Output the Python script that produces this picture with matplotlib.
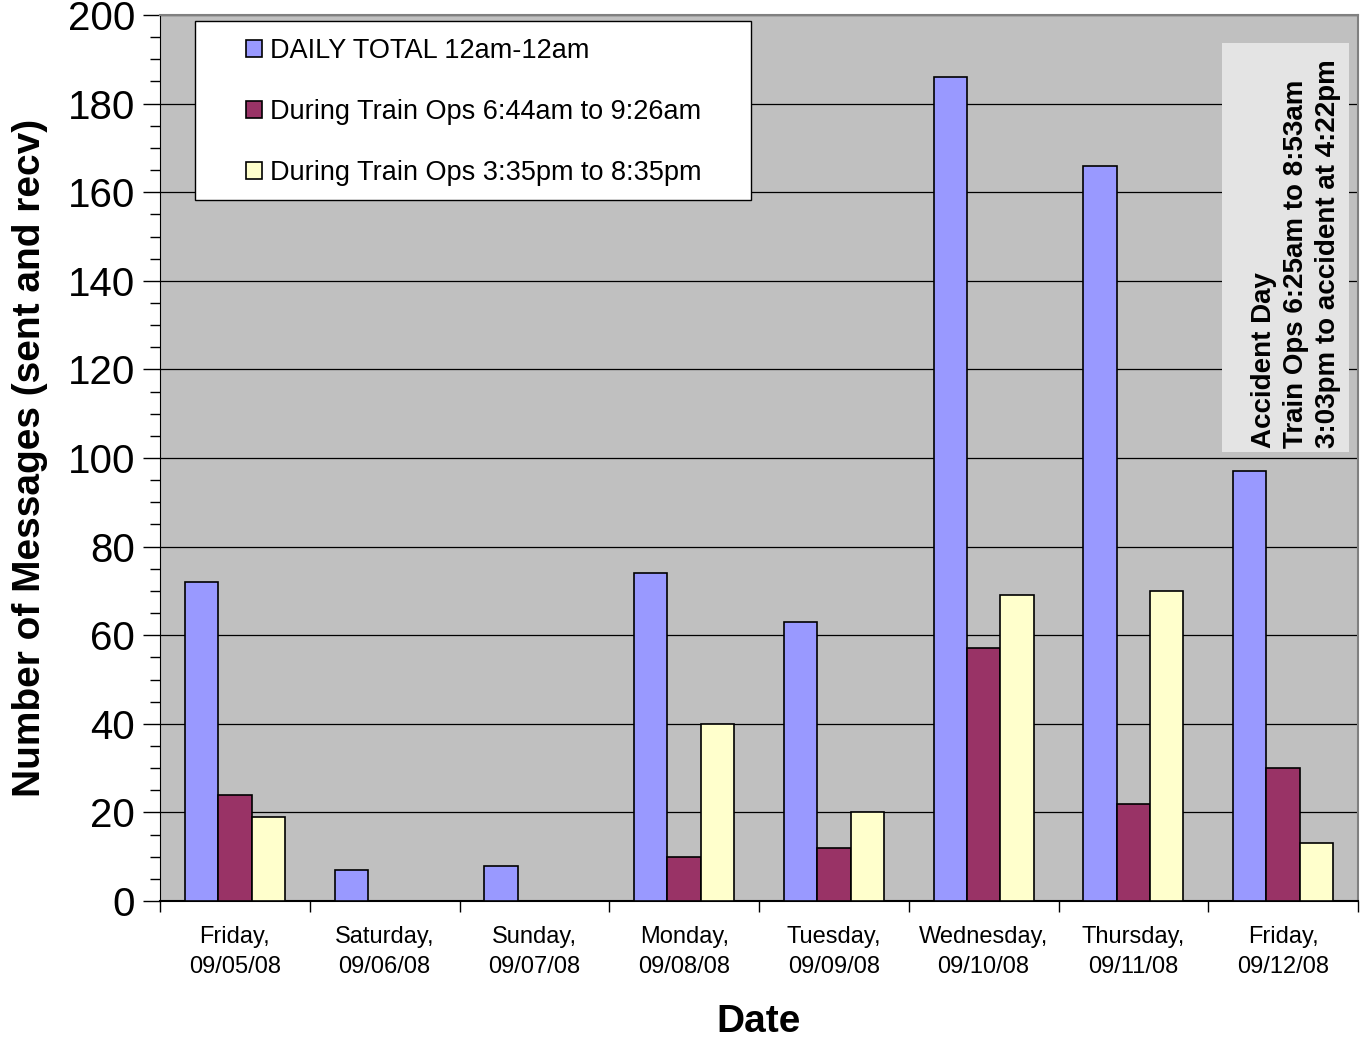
import matplotlib
matplotlib.use("Agg")
import matplotlib.pyplot as plt
import numpy as np
from matplotlib.ticker import MultipleLocator, FixedLocator
from matplotlib.patches import Rectangle

plt.rcParams['font.family'] = ['Liberation Sans', 'DejaVu Sans']

categories = ["Friday,\n09/05/08", "Saturday,\n09/06/08", "Sunday,\n09/07/08",
              "Monday,\n09/08/08", "Tuesday,\n09/09/08", "Wednesday,\n09/10/08",
              "Thursday,\n09/11/08", "Friday,\n09/12/08"]
daily_total = [72, 7, 8, 74, 63, 186, 166, 97]
morning_ops = [24, 0, 0, 10, 12, 57, 22, 30]
evening_ops = [19, 0, 0, 40, 20, 69, 70, 13]
series_names = ["DAILY TOTAL 12am-12am",
                "During Train Ops 6:44am to 9:26am",
                "During Train Ops 3:35pm to 8:35pm"]
colors = ["#9999FF", "#993366", "#FFFFCC"]
note = "Accident Day\nTrain Ops 6:25am to 8:53am\n3:03pm to accident at 4:22pm"

W, H = 1361, 1040
fig = plt.figure(figsize=(W/100, H/100), dpi=100)
ax = fig.add_axes([160/W, 1 - 901/H, 1198/W, 886/H])
ax.set_facecolor("#C0C0C0")

x = np.arange(len(categories))
w = 1/4.5
handles = []
for i, (vals, name, c) in enumerate(zip([daily_total, morning_ops, evening_ops], series_names, colors)):
    v = np.array(vals, dtype=float)
    mask = v > 0
    b = ax.bar(x[mask] + (i - 1) * w, v[mask], width=w, color=c, edgecolor="black",
               linewidth=1.2, label=name, zorder=3)
    handles.append(b)

ax.set_xlim(-0.5, len(categories) - 0.5)
ax.set_ylim(0, 200)
ax.yaxis.set_major_locator(MultipleLocator(20))
ax.yaxis.set_minor_locator(MultipleLocator(5))
ax.grid(axis='y', which='major', color='black', linewidth=0.9, zorder=1)
ax.set_axisbelow(True)

ax.set_xticks(x)
ax.set_xticklabels(categories, fontsize=17, linespacing=1.45)
ax.xaxis.set_minor_locator(FixedLocator(np.arange(-0.5, len(categories), 1.0)))
ax.tick_params(axis='x', which='major', length=0, pad=18)
ax.tick_params(axis='x', which='minor', length=8, width=1, direction='out')
ax.tick_params(axis='y', which='major', length=12, width=1, labelsize=29, pad=6)
ax.tick_params(axis='y', which='minor', length=7, width=1)

for s in ['top', 'right']:
    ax.spines[s].set_color('#808080')
    ax.spines[s].set_linewidth(1.5)
ax.spines['left'].set_color('black')
ax.spines['bottom'].set_color('black')
ax.spines['bottom'].set_linewidth(1.5)

ax.set_ylabel("Number of Messages (sent and recv)", fontsize=28, fontweight='bold', labelpad=14)
ax.set_xlabel("Date", fontsize=28, fontweight='bold', labelpad=19)

# legend frame drawn as a separate box matching the reference size
fig.patches.append(Rectangle((195/W, 1 - 200/H), (751-195)/W, (200-21)/H,
                             transform=fig.transFigure, facecolor='white',
                             edgecolor='black', linewidth=1, zorder=4))
leg = fig.legend(handles, series_names, loc='upper left', bbox_to_anchor=(246/W, 1 - 38/H),
                 bbox_transform=fig.transFigure, fontsize=19.5,
                 frameon=False, handlelength=0.6, handleheight=0.6, handletextpad=0.3,
                 labelspacing=1.3, borderpad=0, borderaxespad=0)
leg.set_zorder(5)

# annotation box
fig.patches.append(Rectangle((1222/W, 1 - 452/H), (1349-1222)/W, (452-43)/H,
                             transform=fig.transFigure, facecolor='#E4E4E4',
                             edgecolor='none', zorder=6))
fig.text(1296/W, 1 - 448/H, note, rotation=90, fontsize=20, fontweight='bold',
         ha='center', va='bottom', multialignment='left', linespacing=1.28, zorder=7)

fig.savefig("out.png", dpi=100)
